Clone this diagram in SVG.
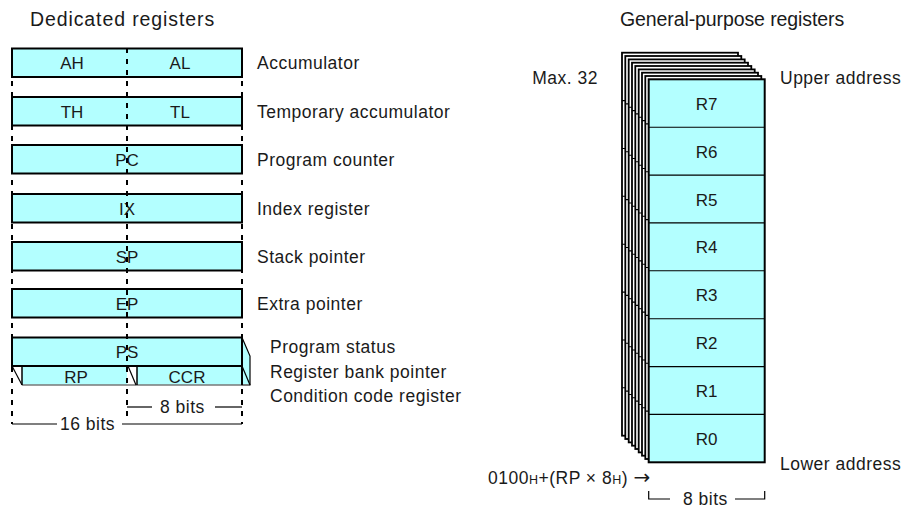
<svg xmlns="http://www.w3.org/2000/svg" width="902" height="508" viewBox="0 0 902 508">
<style>
text{font-family:"Liberation Sans",Arial,Helvetica,sans-serif;fill:#1a1a1a}
.lbl{font-size:17.5px;letter-spacing:0.5px}
.ttl{font-size:19.5px}
.reg{font-size:17px;text-anchor:middle}
.gr{font-size:17px;text-anchor:middle}
.box{fill:#b3ffff;stroke:#000;stroke-width:2}
.bk{fill:#fff;stroke:#000;stroke-width:1.8}
.row{stroke:#000;stroke-width:1.1}
.dash{stroke:#000;stroke-width:2;stroke-dasharray:5 6;fill:none}
.ln{stroke:#000;stroke-width:1.2;fill:none}
</style>
<text class="ttl" x="30" y="26" letter-spacing="0.9">Dedicated registers</text>
<text class="ttl" x="620" y="26" font-size="19" letter-spacing="-0.1">General-purpose registers</text>

<g id="dedicated">
<g id="acc"><rect class="box" x="12" y="48.5" width="230" height="28.5"/><text class="reg" x="72" y="69">AH</text><text class="reg" x="180" y="69">AL</text></g>
<g id="tmp"><rect class="box" x="12" y="97" width="230" height="28.5"/><text class="reg" x="72" y="117.5">TH</text><text class="reg" x="180" y="117.5">TL</text></g>
<g id="pc"><rect class="box" x="12" y="145" width="230" height="28.5"/><text class="reg" x="127" y="165.5">PC</text></g>
<g id="ix"><rect class="box" x="12" y="194" width="230" height="28.5"/><text class="reg" x="127" y="214.5">IX</text></g>
<g id="sp"><rect class="box" x="12" y="242" width="230" height="28.5"/><text class="reg" x="127" y="262.5">SP</text></g>
<g id="ep"><rect class="box" x="12" y="289" width="230" height="28.5"/><text class="reg" x="127" y="309.5">EP</text></g>
<g id="ps">
<polygon points="242,337.5 250,356 250,385 242,385" fill="#b3ffff" stroke="#000" stroke-width="1.2"/>
<rect x="22" y="366" width="105" height="19" fill="#b3ffff"/>
<rect x="137" y="366" width="105" height="19" fill="#b3ffff"/>
<line x1="22" y1="385" x2="250" y2="385" stroke="#777" stroke-width="1.5"/>
<line class="ln" x1="12" y1="366" x2="22" y2="385"/>
<line class="ln" x1="128" y1="366" x2="136" y2="385"/>
<line class="ln" x1="242" y1="366" x2="250" y2="385"/>
<line x1="22" y1="366" x2="22" y2="385" stroke="#000" stroke-width="1.5"/>
<line x1="137" y1="366" x2="137" y2="385" stroke="#000" stroke-width="1.5"/>
<line x1="242" y1="366" x2="242" y2="385" stroke="#000" stroke-width="2"/>
<rect class="box" x="12" y="337.5" width="230" height="28.5"/>
<text class="reg" x="127" y="358">PS</text>
<text class="reg" x="76" y="382.5">RP</text>
<text class="reg" x="187" y="382.5">CCR</text>
</g>
</g>

<g id="guides">
<line class="dash" x1="12" y1="48" x2="12" y2="424"/>
<line class="dash" x1="127" y1="48" x2="127" y2="418"/>
<line class="dash" x1="242" y1="48" x2="242" y2="424"/>
<line class="ln" x1="12" y1="424" x2="57" y2="424"/>
<line class="ln" x1="122" y1="424" x2="242" y2="424"/>
<line class="ln" x1="127" y1="407" x2="152" y2="407"/>
<line class="ln" x1="215" y1="407" x2="242" y2="407"/>
<text class="lbl" x="60" y="430">16 bits</text>
<text class="lbl" x="160" y="413">8 bits</text>
</g>

<g id="labels">
<text class="lbl" x="257" y="69">Accumulator</text>
<text class="lbl" x="257" y="118">Temporary accumulator</text>
<text class="lbl" x="257" y="166">Program counter</text>
<text class="lbl" x="257" y="215">Index register</text>
<text class="lbl" x="257" y="263">Stack pointer</text>
<text class="lbl" x="257" y="310">Extra pointer</text>
<text class="lbl" x="270" y="353">Program status</text>
<text class="lbl" x="270" y="378">Register bank pointer</text>
<text class="lbl" x="270" y="402">Condition code register</text>
</g>

<g id="banks">
<g id="b0"><rect class="bk" x="622" y="52.7" width="116" height="383"/><path class="row" d="M622 100.6H738M622 148.5H738M622 196.3H738M622 244.2H738M622 292.1H738M622 340H738M622 387.8H738"/></g>
<g id="b1"><rect class="bk" x="625.3" y="56" width="116" height="383"/><path class="row" d="M625.3 103.9h116M625.3 151.8h116M625.3 199.6h116M625.3 247.5h116M625.3 295.4h116M625.3 343.3h116M625.3 391.1h116"/></g>
<g id="b2"><rect class="bk" x="628.7" y="59.4" width="116" height="383"/><path class="row" d="M628.7 107.3h116M628.7 155.2h116M628.7 203h116M628.7 250.9h116M628.7 298.8h116M628.7 346.7h116M628.7 394.5h116"/></g>
<g id="b3"><rect class="bk" x="632" y="62.7" width="116" height="383"/><path class="row" d="M632 110.6h116M632 158.5h116M632 206.3h116M632 254.2h116M632 302.1h116M632 350h116M632 397.8h116"/></g>
<g id="b4"><rect class="bk" x="635.3" y="66" width="116" height="383"/><path class="row" d="M635.3 113.9h116M635.3 161.8h116M635.3 209.6h116M635.3 257.5h116M635.3 305.4h116M635.3 353.3h116M635.3 401.1h116"/></g>
<g id="b5"><rect class="bk" x="638.7" y="69.4" width="116" height="383"/><path class="row" d="M638.7 117.3h116M638.7 165.2h116M638.7 213h116M638.7 260.9h116M638.7 308.8h116M638.7 356.7h116M638.7 404.5h116"/></g>
<g id="b6"><rect class="bk" x="642" y="72.7" width="116" height="383"/><path class="row" d="M642 120.6h116M642 168.5h116M642 216.3h116M642 264.2h116M642 312.1h116M642 360h116M642 407.8h116"/></g>
<g id="b7"><rect class="bk" x="645.3" y="76" width="116" height="383"/><path class="row" d="M645.3 123.9h116M645.3 171.8h116M645.3 219.6h116M645.3 267.5h116M645.3 315.4h116M645.3 363.3h116M645.3 411.1h116"/></g>
<g id="front">
<rect class="box" x="648.7" y="79.3" width="116" height="383"/>
<path class="row" d="M648.7 127.2h116M648.7 175.1h116M648.7 222.9h116M648.7 270.8h116M648.7 318.7h116M648.7 366.6h116M648.7 414.4h116"/>
<text class="gr" x="706.7" y="109.5">R7</text>
<text class="gr" x="706.7" y="157.5">R6</text>
<text class="gr" x="706.7" y="205.5">R5</text>
<text class="gr" x="706.7" y="253">R4</text>
<text class="gr" x="706.7" y="301">R3</text>
<text class="gr" x="706.7" y="349">R2</text>
<text class="gr" x="706.7" y="397">R1</text>
<text class="gr" x="706.7" y="444.5">R0</text>
</g>
</g>

<g id="gp-labels">
<text class="lbl" x="598" y="84" text-anchor="end">Max. 32</text>
<text class="lbl" x="780" y="84">Upper address</text>
<text class="lbl" x="780" y="469.5">Lower address</text>
<text class="lbl" x="488" y="484">0100<tspan font-size="12.5">H</tspan>+(RP × 8<tspan font-size="12.5">H</tspan>) <tspan font-family="DejaVu Sans" font-size="20">→</tspan></text>
<path class="ln" d="M648.7 491V499H670M735 499H764.7V491"/>
<text class="lbl" x="683" y="504.5">8 bits</text>
</g>
</svg>
